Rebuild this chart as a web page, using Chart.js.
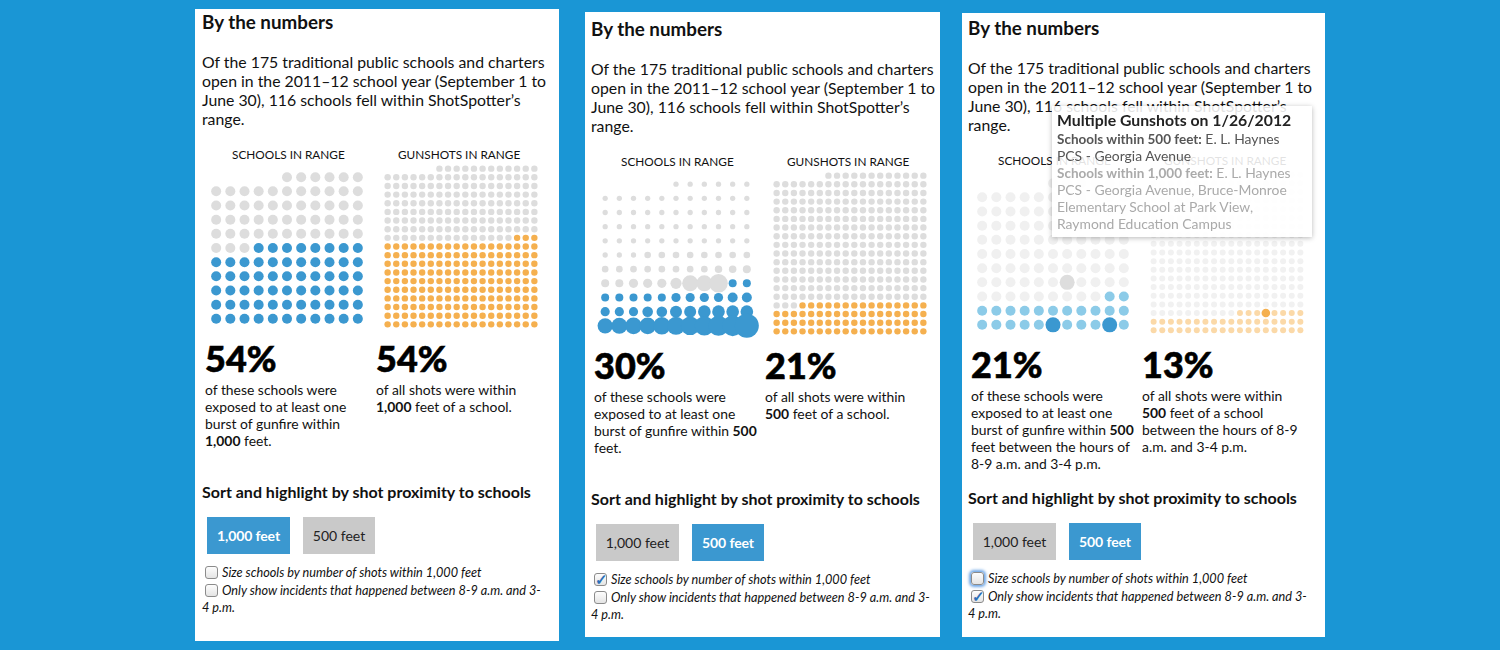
<!DOCTYPE html>
<html>
<head>
<meta charset="utf-8">
<script src="https://cdn.jsdelivr.net/npm/chart.js@4/dist/chart.umd.min.js"></script>
<style>
html, body { margin: 0; padding: 0; }
body { width: 1500px; height: 650px; background: #1a96d5; overflow: hidden; position: relative;
  font-family: Lato, sans-serif; color: #111; }
.sheet { position: absolute; background: #fff; }
.t { position: absolute; white-space: nowrap; }
canvas { position: absolute; }
.btn { position: absolute; height: 37px; line-height: 37px; text-align: center; font-size: 14px; background: #c9c9c9; color: #222; }
.btn.on { background: #3b98d0; color: #fff; font-weight: 700; letter-spacing: -0.1px; }
.box { position: absolute; width: 11px; height: 11px; border: 1px solid #8b8b8b; border-radius: 3px;
  background: linear-gradient(#fdfdfd, #e4e4e4); font-size: 15px; line-height: 10px; text-align: center; color: #2b6fb8; font-weight: 900; }
.box.focus { box-shadow: 0 0 3px 2px #6ea6e6; }
.tip { position: absolute; left: 1052px; top: 106px; width: 260px; height: 131px; background: rgba(255,255,255,0.88);
  box-shadow: 0 1px 5px rgba(0,0,0,0.28); }
</style>
</head>
<body>
<script>
// shared grid shape, top row to bottom row
var schoolRowCounts = [6, 11, 11, 11, 11, 11, 11, 11, 11, 11, 11];
var gunshotRowCounts = [12, 18, 18, 18, 18, 18, 18, 18, 18, 18, 18, 18, 18, 18, 18, 18, 18, 18, 18];

// how many dots in each row are in range
var schoolsInRange1 = [0, 0, 0, 0, 0, 8, 11, 11, 11, 11, 11];
var gunshotsInRange1 = [0, 0, 0, 0, 0, 0, 0, 0, 3, 18, 18, 18, 18, 18, 18, 18, 18, 18, 18];
var schoolsInRange2 = [0, 0, 0, 0, 0, 0, 0, 2, 11, 11, 11];
var gunshotsInRange2 = [0, 0, 0, 0, 0, 0, 0, 0, 0, 0, 0, 0, 0, 0, 0, 15, 18, 18, 18];
var schoolsInRange3 = [0, 0, 0, 0, 0, 0, 0, 0, 2, 11, 11];
var gunshotsInRange3 = [0, 0, 0, 0, 0, 0, 0, 0, 0, 0, 0, 0, 0, 0, 0, 0, 8, 18, 18];

// panel 2 sizes schools by number of shots within 1,000 feet
var schoolShots2 = [
  [7, 7, 7, 7, 7, 7],
  [7, 7, 7, 7, 7, 7, 7, 7, 7, 7, 7],
  [7, 7, 7, 7, 7, 7, 7, 7, 7, 7, 7],
  [7, 7, 7, 7, 7, 7, 7, 7, 7, 7, 7],
  [7, 7, 7, 7, 7, 7, 7, 7, 7, 7, 7],
  [7, 7, 7, 11, 11, 11, 11, 11, 11, 11, 11],
  [11, 11, 11, 11, 11, 11, 11, 11, 14, 14, 16],
  [16, 16, 21, 21, 21, 31, 64, 64, 86, 16, 16],
  [16, 16, 16, 16, 16, 21, 21, 21, 21, 25, 25],
  [21, 21, 21, 28, 28, 36, 36, 40, 40, 40, 40],
  [58, 64, 69, 69, 76, 81, 86, 94, 100, 106, 144]
];

// panel 3: the hovered incident, as row and column of the grid
var hotSchoolRows = [7, 10, 10];
var hotSchoolCols = [6, 5, 9];
var hotGunshotRows = [16];
var hotGunshotCols = [13];

var percents = [["54%", "54%"], ["30%", "21%"], ["21%", "13%"]];
var schoolNotes = [
  ["of these schools were", "exposed to at least one", "burst of gunfire within", "<b>1,000</b> feet."],
  ["of these schools were", "exposed to at least one", "burst of gunfire within <b>500</b>", "feet."],
  ["of these schools were", "exposed to at least one", "burst of gunfire within <b>500</b>", "feet between the hours of", "8-9 a.m. and 3-4 p.m."]
];
var shotNotes = [
  ["of all shots were within", "<b>1,000</b> feet of a school."],
  ["of all shots were within", "<b>500</b> feet of a school."],
  ["of all shots were within", "<b>500</b> feet of a school", "between the hours of 8-9", "a.m. and 3-4 p.m."]
];
var introLines = [
  "Of the 175 traditional public schools and charters",
  "open in the 2011–12 school year (September 1 to",
  "June 30), 116 schools fell within ShotSpotter’s",
  "range."
];

var GREY = "#dddddd", BLUE = "#3b98d0", ORANGE = "#f5b04f";

function put(x, y, html, css) {
  var d = document.createElement("div");
  d.className = "t";
  d.style.cssText = "left:" + x + "px;top:" + y + "px;" + (css || "");
  d.innerHTML = html;
  document.body.appendChild(d);
  return d;
}

// one dot per grid cell, rows are right aligned; in range dots fill the row from the right
function gridPoints(rowCounts, cols, inRange, radiusFn) {
  var off = [], on = [];
  for (var row = 0; row < rowCounts.length; row++) {
    var n = rowCounts[row];
    for (var i = 0; i < n; i++) {
      var col = cols - n + i;
      var p = { x: col, y: row, r: radiusFn(row, i) };
      if (i >= n - inRange[row]) on.push(p); else off.push(p);
    }
  }
  return [off, on];
}

function drawGrid(left, top, w, h, cols, rows, datasets) {
  var c = document.createElement("canvas");
  c.width = w; c.height = h;
  c.style.left = left + "px"; c.style.top = top + "px";
  document.body.appendChild(c);
  new Chart(c, {
    type: "bubble",
    data: { datasets: datasets },
    options: {
      responsive: false,
      animation: false,
      events: [],
      layout: { padding: 0, autoPadding: false },
      plugins: { legend: { display: false }, tooltip: { enabled: false } },
      scales: {
        x: { type: "linear", display: false, min: -1, max: cols },
        y: { type: "linear", display: false, min: -1, max: rows, reverse: true }
      }
    }
  });
}

// first dataset ends up on top, so order sets the stacking
function ds(label, pts, color, order) {
  return { label: label, data: pts, backgroundColor: color, borderWidth: 0, order: order || 5 };
}

function drawSchools(dx, dy, sets) { drawGrid(202 + dx, 163 + dy, 170, 170, 11, 11, sets); }
function drawShots(dx, dy, sets) { drawGrid(379 + dx, 160 + dy, 164, 173, 18, 19, sets); }

function drawPanel(idx, dx, dy, sheet, onFirst, checks) {
  var s = document.createElement("div");
  s.className = "sheet";
  s.style.cssText = "left:" + sheet[0] + "px;top:" + sheet[1] + "px;width:" + sheet[2] + "px;height:" + sheet[3] + "px;";
  document.body.appendChild(s);

  put(202 + dx, 11 + dy, "By the numbers", "font-size:18.8px;font-weight:700;line-height:22px;");
  introLines.forEach(function (l, i) {
    put(202 + dx, 52 + dy + i * 19, l, "font-size:15.8px;line-height:19px;");
  });
  put(232 + dx, 147 + dy, "SCHOOLS IN RANGE", "font-size:11.8px;line-height:15px;");
  put(398 + dx, 147 + dy, "GUNSHOTS IN RANGE", "font-size:11.8px;line-height:15px;");

  var big = "font-size:36px;font-weight:900;line-height:40px;color:#000;-webkit-text-stroke:0.6px #000;";
  put(205 + dx, 338 + dy, percents[idx][0], big);
  put(376 + dx, 338 + dy, percents[idx][1], big);
  schoolNotes[idx].forEach(function (l, i) {
    put(205 + dx, 381 + dy + i * 17, l, "font-size:13.9px;line-height:17px;");
  });
  shotNotes[idx].forEach(function (l, i) {
    put(376 + dx, 381 + dy + i * 17, l, "font-size:13.9px;line-height:17px;");
  });

  put(202 + dx, 482 + dy, "Sort and highlight by shot proximity to schools", "font-size:16px;font-weight:700;line-height:20px;");

  var b1 = document.createElement("div");
  b1.className = "btn" + (onFirst ? " on" : "");
  b1.style.cssText = "left:" + (207 + dx) + "px;top:" + (517 + dy) + "px;width:83px;";
  b1.textContent = "1,000 feet";
  document.body.appendChild(b1);
  var b2 = document.createElement("div");
  b2.className = "btn" + (onFirst ? "" : " on");
  b2.style.cssText = "left:" + (303 + dx) + "px;top:" + (517 + dy) + "px;width:72px;";
  b2.textContent = "500 feet";
  document.body.appendChild(b2);

  [0, 1].forEach(function (i) {
    var bx = document.createElement("div");
    bx.className = "box" + (checks[i] === 2 ? " focus" : "");
    bx.style.cssText = "left:" + (205 + dx) + "px;top:" + (566 + dy + i * 18) + "px;";
    bx.textContent = checks[i] === 1 ? "✓" : "";
    document.body.appendChild(bx);
  });
  var it = "font-size:12.7px;font-style:italic;line-height:17px;";
  put(222 + dx, 564 + dy, "Size schools by number of shots within 1,000 feet", it);
  put(222 + dx, 582 + dy, "Only show incidents that happened between 8-9 a.m. and 3-", it);
  put(202 + dx, 599 + dy, "4 p.m.", it);
}

function fixedR(r) { return function () { return r; }; }

// panel 1
drawPanel(0, 0, 0, [195, 9, 364, 632], true, [0, 0]);
var s1 = gridPoints(schoolRowCounts, 11, schoolsInRange1, fixedR(5));
var g1 = gridPoints(gunshotRowCounts, 18, gunshotsInRange1, fixedR(3.2));
drawSchools(0, 0, [ds("Out of range", s1[0], GREY), ds("In range", s1[1], BLUE)]);
drawShots(0, 0, [ds("Out of range", g1[0], GREY), ds("In range", g1[1], ORANGE)]);

// panel 2
drawPanel(1, 389, 7, [585, 12, 355, 625], false, [1, 0]);
var s2 = gridPoints(schoolRowCounts, 11, schoolsInRange2, function (row, i) { return Math.sqrt(schoolShots2[row][i]); });
var g2 = gridPoints(gunshotRowCounts, 18, gunshotsInRange2, fixedR(3.2));
drawSchools(389, 7, [ds("Out of range", s2[0], GREY), ds("In range", s2[1], BLUE)]);
drawShots(389, 7, [ds("Out of range", g2[0], GREY), ds("In range", g2[1], ORANGE)]);

// panel 3
drawPanel(2, 766, 6, [962, 13, 363, 624], false, [2, 1]);
var s3 = gridPoints(schoolRowCounts, 11, schoolsInRange3, fixedR(5));
var g3 = gridPoints(gunshotRowCounts, 18, gunshotsInRange3, fixedR(3));
var hotS = hotSchoolRows.map(function (row, i) { return { x: hotSchoolCols[i], y: row, r: 7.5 }; });
var hotG = hotGunshotRows.map(function (row, i) { return { x: hotGunshotCols[i], y: row, r: 4.3 }; });
drawSchools(766, 6, [
  ds("Out of range", s3[0], "#f0f0f0"),
  ds("In range", s3[1], "#8ccbe8"),
  ds("Incident, out of range", hotS.slice(0, 1), GREY, 1),
  ds("Incident, in range", hotS.slice(1), BLUE, 1)
]);
drawShots(766, 6, [
  ds("Out of range", g3[0], "#f1f1f1"),
  ds("In range", g3[1], "#fbd9a8"),
  ds("Incident", hotG, ORANGE, 1)
]);

// hover card over panel 3
var tip = document.createElement("div");
tip.className = "tip";
document.body.appendChild(tip);
put(1057, 111, "Multiple Gunshots on 1/26/2012", "font-size:15.8px;font-weight:700;line-height:18px;color:#222;");
var tipA = "font-size:13.9px;line-height:17px;color:#555;";
var tipB = "font-size:13.9px;line-height:17px;color:#aaa;";
put(1057, 130, "<b style='font-size:13.5px'>Schools within 500 feet:</b> E. L. Haynes", tipA);
put(1057, 147, "PCS - Georgia Avenue", tipA);
put(1057, 164, "<b style='font-size:13.5px'>Schools within 1,000 feet:</b> E. L. Haynes", tipB);
put(1057, 181, "PCS - Georgia Avenue, Bruce-Monroe", tipB);
put(1057, 198, "Elementary School at Park View,", tipB);
put(1057, 215, "Raymond Education Campus", tipB);
</script>
</body>
</html>
